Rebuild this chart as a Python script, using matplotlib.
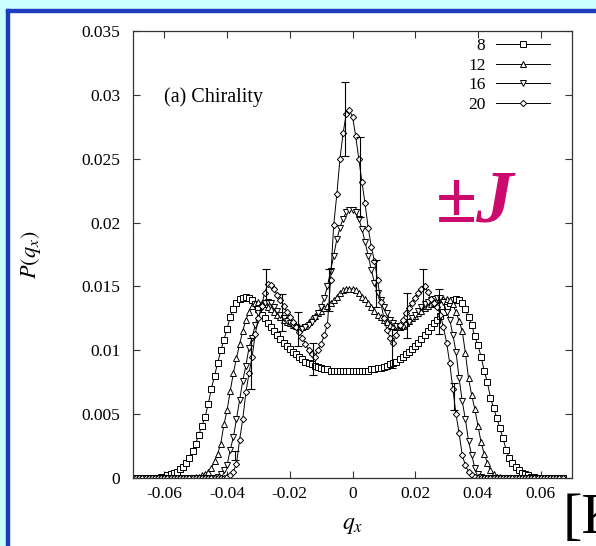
import numpy as np
import matplotlib
matplotlib.use("Agg")
import matplotlib.pyplot as plt
from matplotlib.patches import Rectangle

plt.rcParams.update({
    "font.family": "serif",
    "font.serif": ["Liberation Serif", "DejaVu Serif"],
    "mathtext.fontset": "stix",
})

# q_x grid of the simulation (step 0.001)
q_x = np.linspace(-0.069, 0.067, 137)

# P(q_x), in units of 1e-4
p_L8 = [0, 0, 0, 0, 0, 0, 0, 0,
        1, 1, 2, 3, 4, 5, 7, 9, 12, 16,
        21, 27, 34, 41, 48, 58, 70, 80, 90, 100,
        108, 117, 126, 132, 137, 140, 141, 142, 141, 139,
        136, 132, 128, 125, 121, 118, 115, 112, 109, 106,
        103, 101, 99, 97, 95, 93, 91, 90, 89, 88,
        87, 86, 85, 85, 84, 84, 84, 84, 84, 84,
        84, 84,
        84, 84, 84, 84, 84, 85, 85, 86, 86, 87,
        88, 89, 90, 91, 93, 95, 97, 99, 101, 103,
        106, 109, 112, 115, 118, 121, 124, 127, 130, 134,
        137, 139, 140, 139, 137, 132, 126, 120, 111, 104,
        95, 84, 75, 63, 55, 47, 39, 31, 22, 16,
        12, 9, 6, 4, 3, 2, 1, 1, 0, 0,
        0, 0, 0, 0, 0, 0, 0]

p_L12 = [0, 0, 0, 0, 0, 0, 0, 0,
         0, 0, 0, 0, 0, 0, 0, 0, 0, 0,
         0, 1, 1, 2, 3, 5, 8, 13, 19, 27,
         42, 53, 68, 82, 94, 105, 115, 124, 130, 135,
         137, 138, 137, 136, 134, 132, 130, 128, 126, 124,
         122, 121, 120, 119, 118, 118, 119, 122, 125, 127,
         129, 131, 133, 135, 137, 139, 142, 145, 147, 148,
         148, 148,
         147, 145, 142, 140, 137, 134, 131, 128, 126, 124,
         122, 120, 119, 118, 118, 119, 121, 123, 125, 127,
         129, 131, 133, 135, 136, 137, 139, 140, 140, 140,
         139, 136, 130, 123, 115, 98, 78, 65, 54, 41,
         28, 19, 12, 6, 3, 1, 1, 0, 0, 0,
         0, 0, 0, 0, 0, 0, 0, 0, 0, 0,
         0, 0, 0, 0, 0, 0, 0]

p_L16 = [0, 0, 0, 0, 0, 0, 0, 0,
         0, 0, 0, 0, 0, 0, 0, 0, 0, 0,
         0, 0, 0, 0, 0, 0, 0, 0, 1, 3,
         6, 10, 22, 32, 46, 61, 76, 88, 102, 110,
         120, 129, 134, 137, 138, 137, 134, 131, 128, 125,
         123, 121, 119, 118, 117, 117, 118, 120, 122, 125,
         129, 134, 141, 150, 162, 174, 187, 196, 203, 208,
         210, 210,
         208, 203, 195, 185, 174, 163, 153, 145, 139, 134,
         129, 124, 121, 119, 118, 118, 120, 122, 125, 128,
         131, 134, 136, 138, 139, 140, 141, 141, 138, 130,
         124, 112, 99, 78, 60, 46, 29, 18, 8, 3,
         1, 0, 0, 0, 0, 0, 0, 0, 0, 0,
         0, 0, 0, 0, 0, 0, 0, 0, 0, 0,
         0, 0, 0, 0, 0, 0, 0]

p_L20 = [0, 0, 0, 0, 0, 0, 0, 0,
         0, 0, 0, 0, 0, 0, 0, 0, 0, 0,
         0, 0, 0, 0, 0, 0, 0, 0, 0, 0,
         0, 1, 2, 5, 11, 30, 46, 67, 82, 95,
         113, 125, 135, 145, 152, 151, 148, 143, 139, 135,
         130, 126, 122, 118, 114, 110, 105, 100, 97, 95,
         100, 105, 112, 120, 155, 198, 222, 250, 270, 285,
         288, 283,
         268, 250, 232, 215, 196, 181, 170, 155, 138, 125,
         116, 110, 106, 112, 120, 124, 129, 133, 137, 141,
         145, 148, 150, 146, 140, 137, 134, 128, 118, 106,
         90, 70, 50, 35, 18, 10, 5, 2, 1, 0,
         0, 0, 0, 0, 0, 0, 0, 0, 0, 0,
         0, 0, 0, 0, 0, 0, 0, 0, 0, 0,
         0, 0, 0, 0, 0, 0, 0]

# error bars (L = 20): position, lower and upper end
err_q = [-0.0375, -0.0325, -0.0275, -0.0225, -0.0175, -0.0125, -0.0075, -0.0025,
         0.0025, 0.0075, 0.0125, 0.0175, 0.0225, 0.0275, 0.0325]
err_lo = [0.0014, 0.0070, 0.0139, 0.0115, 0.0103, 0.0081, 0.0131, 0.0252,
          0.0204, 0.0134, 0.0086, 0.0110, 0.0132, 0.0113, 0.0053]
err_hi = [0.0021, 0.0110, 0.0164, 0.0144, 0.0130, 0.0106, 0.0164, 0.0310,
          0.0267, 0.0171, 0.0117, 0.0145, 0.0164, 0.0148, 0.0074]

sizes = ["8", "12", "16", "20"]
markers = ["s", "^", "v", "D"]
msizes = [4.2, 4.0, 4.0, 3.2]

x_ticks = [-0.06, -0.04, -0.02, 0, 0.02, 0.04, 0.06]
x_ticklabels = ["-0.06", "-0.04", "-0.02", "0", "0.02", "0.04", "0.06"]
y_ticks = [0, 0.005, 0.01, 0.015, 0.02, 0.025, 0.03, 0.035]
y_ticklabels = ["0", "0.005", "0.01", "0.015", "0.02", "0.025", "0.03", "0.035"]

fig = plt.figure(figsize=(5.96, 5.46), dpi=100, facecolor="white")

# slide frame: cyan bands with blue rule lines
fig.patches.append(Rectangle((0, 1 - 9 / 546), 1, 9 / 546, transform=fig.transFigure,
                             color="#ccffff", zorder=0))
fig.patches.append(Rectangle((0, 0), 6 / 596, 1, transform=fig.transFigure,
                             color="#ccffff", zorder=0))
fig.patches.append(Rectangle((6 / 596, 1 - 11.5 / 546), 1, 2.5 / 546, transform=fig.transFigure,
                             color="#1f3cc0", zorder=1))
fig.patches.append(Rectangle((6 / 596, 0), 2.5 / 596, 1 - 9 / 546, transform=fig.transFigure,
                             color="#1f3cc0", zorder=1))

ax = fig.add_axes([133 / 596, 1 - 478 / 546, 439 / 596, 447 / 546])

series = [p_L8, p_L12, p_L16, p_L20]
for lab, vals, m, ms in zip(sizes, series, markers, msizes):
    ax.plot(q_x, np.array(vals) * 1e-4, color="black", lw=0.7, marker=m, ms=ms,
            mfc="white", mec="black", mew=0.7, label=lab)

err_lo = np.array(err_lo)
err_hi = np.array(err_hi)
err_mid = (err_lo + err_hi) / 2
ax.errorbar(err_q, err_mid, yerr=[err_mid - err_lo, err_hi - err_mid], fmt="none",
            ecolor="black", elinewidth=0.8, capsize=3, capthick=0.8)

ax.set_xlim(-0.07, 0.07)
ax.set_ylim(0, 0.035)
ax.set_xticks(x_ticks)
ax.set_xticklabels(x_ticklabels)
ax.set_yticks(y_ticks)
ax.set_yticklabels(y_ticklabels)
ax.tick_params(direction="in", length=5, width=0.8, top=True, right=True,
               labelsize=12.5, color="#333333")
ax.tick_params(axis="y", pad=9)
ax.tick_params(axis="x", pad=6)
for sp in ax.spines.values():
    sp.set_linewidth(0.9)
    sp.set_color("#333333")

ax.set_xlabel(r"$q_x$", fontsize=17)
ax.xaxis.set_label_coords(0.5, -0.082)
ax.set_ylabel(r"$P(q_x)$", fontsize=16)
ax.yaxis.set_label_coords(-0.205, 0.5)

ax.text(0.07, 0.852, "(a) Chirality", transform=ax.transAxes, fontsize=14.5,
        ha="left", va="center")

ax.legend(loc="upper right", bbox_to_anchor=(0.965, 1.0), frameon=False,
          markerfirst=False, fontsize=12.5, handlelength=3.1, handletextpad=0.6,
          labelspacing=0.2, borderaxespad=0.0)

fig.text(436 / 596, 1 - 204 / 546, "\u00b1J", color="#cc0a6e", fontsize=54,
         fontweight="bold", style="italic", ha="left", va="center")
fig.text(563 / 596, 1 - 533 / 546, "[K", color="black", fontsize=42,
         ha="left", va="baseline")

fig.savefig("out.png", dpi=100, facecolor="white")
